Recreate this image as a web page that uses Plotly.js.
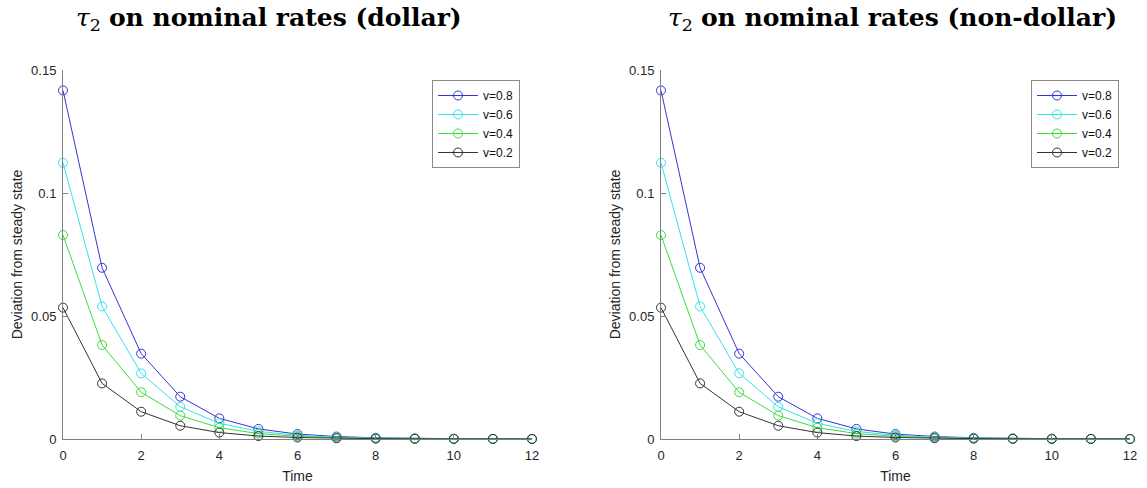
<!DOCTYPE html>
<html>
<head>
<meta charset="utf-8">
<script src="https://cdn.plot.ly/plotly-3.0.1.min.js"></script>
<style>html,body{margin:0;padding:0;background:#fff;}#chart{width:1147px;height:488px;}</style>
</head>
<body>
<div id="chart"></div>
<script>
const time = [0,1,2,3,4,5,6,7,8,9,10,11,12];
const seriesNames = ["v=0.8","v=0.6","v=0.4","v=0.2"];
const v08 = [0.1417,0.0696,0.0347,0.0172,0.0084,0.0041,0.0020,0.0010,0.0005,0.00024,0.00012,0.00006,0.00003];
const v06 = [0.1123,0.0539,0.0267,0.0131,0.0064,0.0031,0.0015,0.0007,0.00035,0.00017,0.00008,0.00004,0.00002];
const v04 = [0.0829,0.0382,0.0190,0.0095,0.0046,0.0022,0.0011,0.0005,0.00025,0.00012,0.00006,0.00003,0.00001];
const v02 = [0.0534,0.0226,0.0111,0.0054,0.0026,0.0012,0.0006,0.0003,0.00014,0.00007,0.00003,0.00002,0.00001];
const dollarSeries = [v08, v06, v04, v02];
const nonDollarSeries = [v08, v06, v04, v02];
const colors = ["#3434d6","#36e2ea","#3ddc3d","#333333"];
const titles = ["on nominal rates (dollar)","on nominal rates (non-dollar)"];
const yTicks = [0,0.05,0.1,0.15];
const yTickText = ["0","0.05","0.1","0.15"];
const xTicks = [0,2,4,6,8,10,12];

const W = 1147, H = 488;
const traces = [];
[dollarSeries, nonDollarSeries].forEach((set, p) => {
  set.forEach((ys, i) => {
    traces.push({
      x: time, y: ys, type: 'scatter', mode: 'lines+markers',
      name: seriesNames[i],
      xaxis: p === 0 ? 'x' : 'x2', yaxis: p === 0 ? 'y' : 'y2',
      legend: p === 0 ? 'legend' : 'legend2',
      line: {color: colors[i], width: 1},
      marker: {symbol: 'circle-open', size: 9, color: colors[i], line: {width: 1, color: colors[i]}},
      cliponaxis: false
    });
  });
});

const fam = 'Liberation Sans, Arial, sans-serif';
const tickFont = {family: fam, size: 13, color: '#262626'};
function xax(dom, anchor) {
  return {domain: dom, anchor: anchor, range: [0,12], tickvals: xTicks, ticks: 'inside', ticklen: 5,
    tickcolor: '#808080', showline: true, linecolor: '#808080', linewidth: 1, showgrid: false, zeroline: false,
    tickfont: tickFont, fixedrange: true, ticklabelstandoff: 4,
    title: {text: 'Time', font: {family: fam, size: 14, color: '#262626'}, standoff: 9}};
}
function yax(anchor) {
  return {domain: [(H-439)/H, (H-70)/H], anchor: anchor, range: [0,0.15], tickvals: yTicks, ticktext: yTickText,
    ticks: 'inside', ticklen: 5, tickcolor: '#808080', showline: true, linecolor: '#808080', linewidth: 1,
    showgrid: false, zeroline: false, tickfont: tickFont, fixedrange: true, ticklabelstandoff: 3,
    title: {text: 'Deviation from steady state', font: {family: fam, size: 14, color: '#262626'}, standoff: 5}};
}
const legendStyle = (xr) => ({x: xr/W, xanchor: 'right', y: (H-80)/H, yanchor: 'top',
  bordercolor: '#888', borderwidth: 1, bgcolor: '#fff',
  font: {family: fam, size: 12, color: '#111'},
  tracegroupgap: 0, itemwidth: 40});

const titleAnn = (cx, txt) => ({
  xref: 'paper', yref: 'paper', x: cx/W, y: (H-19)/H, xanchor: 'center', yanchor: 'middle', showarrow: false,
  text: '<i>τ</i><sub>2</sub> <b>' + txt + '</b>',
  font: {family: 'DejaVu Serif, serif', size: 25, color: '#000'}
});

const layout = {
  width: W, height: H, margin: {l:0, r:0, t:0, b:0}, paper_bgcolor: '#fff', plot_bgcolor: '#fff',
  xaxis: xax([63/W, 532/W], 'y'), yaxis: yax('x'),
  xaxis2: xax([661/W, 1130/W], 'y2'), yaxis2: yax('x2'),
  legend: legendStyle(520), legend2: legendStyle(1119),
  annotations: [titleAnn(269, titles[0]), titleAnn(892, titles[1])]
};
Plotly.newPlot('chart', traces, layout, {displayModeBar: false, staticPlot: true});
</script>
</body>
</html>
